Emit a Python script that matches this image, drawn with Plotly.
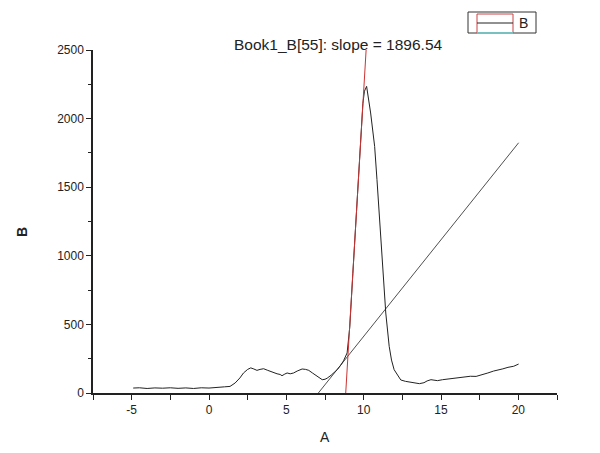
import plotly.graph_objects as go

# measured curve B vs A
a_vals = [-4.9, -4.5, -4.0, -3.5, -3.0, -2.5, -2.0, -1.5, -1.0, -0.5, 0.0, 0.3, 0.7, 1.0,
          1.36, 1.69, 2.0, 2.23, 2.5, 2.7, 2.9, 3.1, 3.3, 3.53, 3.8, 4.0, 4.18, 4.4, 4.6,
          4.72, 4.9, 5.05, 5.25, 5.47, 5.7, 6.02, 6.25, 6.45, 6.7, 6.99, 7.32, 7.5, 7.64,
          7.9, 8.1, 8.29, 8.5, 8.7, 8.93, 9.1, 9.3, 9.43, 9.65, 9.8, 9.95, 10.05, 10.19,
          10.45, 10.71, 10.86, 11.0, 11.12, 11.25, 11.43, 11.65, 11.8, 11.97, 12.2, 12.4,
          12.7, 13.05, 13.3, 13.6, 13.9, 14.1, 14.35, 14.6, 14.77, 15.1, 15.42, 15.8, 16.1,
          16.5, 16.9, 17.27, 17.6, 18.03, 18.4, 18.68, 19.0, 19.33, 19.7, 20.02]
b_vals = [36, 38, 33, 37, 35, 38, 34, 37, 33, 38, 36, 40, 42, 45,
          48, 73, 110, 146, 172, 183, 175, 165, 172, 177, 165, 155, 150, 140, 135,
          126, 138, 146, 140, 146, 160, 175, 172, 165, 145, 121, 97, 100, 108,
          130, 150, 170, 200, 235, 292, 480, 870, 1117, 1536, 1820, 2110, 2200, 2235,
          2041, 1797, 1555, 1312, 1069, 826, 583, 340, 240, 170, 125, 95,
          85, 80, 75, 68, 75, 88, 97, 92, 90, 97, 102, 108, 112,
          117, 122, 121, 130, 146, 160, 170, 176, 187, 195, 211]

x_ticks = [-5, 0, 5, 10, 15, 20]
x_tick_text = ["-5", "0", "5", "10", "15", "20"]

# tangent at Book1_B[55]
slope = 1896.54
tan_x = [8.84, 8.84 + 2500 / slope]
tan_y = [0, 2500]

# second straight line
line_x = [7.07, 20.02]
line_y = [0, 1824]

# page has an 8px body margin, so the figure is drawn 8px smaller
OFF = 8
W, H = 600 - OFF, 453 - OFF
L, R, T, B = 93 - OFF, 43, 50 - OFF, 60


def px(x):
    x -= OFF
    return (x - L) / (W - L - R)


def py(y):
    y -= OFF
    return (H - B - y) / (H - T - B)


fig = go.Figure()
fig.add_trace(go.Scatter(x=a_vals, y=b_vals, mode="lines",
                         line=dict(color="#222222", width=1), name="B"))
fig.add_trace(go.Scatter(x=line_x, y=line_y, mode="lines",
                         line=dict(color="#222222", width=0.8), showlegend=False))
fig.add_trace(go.Scatter(x=tan_x, y=tan_y, mode="lines",
                         line=dict(color="#cc3333", width=1), showlegend=False))

font = dict(family="Liberation Sans, Arial, sans-serif", color="#222222")

fig.update_layout(
    width=W, height=H,
    margin=dict(l=L, r=R, t=T, b=B),
    paper_bgcolor="white", plot_bgcolor="white",
    showlegend=False,
    font=dict(size=12, **font),
    xaxis=dict(range=[-7.5, 22.5], tickvals=x_ticks, ticktext=x_tick_text,
               ticks="outside", ticklen=5, tickwidth=1, tickcolor="#222",
               minor=dict(dtick=2.5, tick0=-7.5, ticks="outside", ticklen=5,
                          tickwidth=1, tickcolor="#222"),
               showline=True, linewidth=1.5, linecolor="#222",
               showgrid=False, zeroline=False),
    yaxis=dict(range=[0, 2500], dtick=500,
               ticks="outside", ticklen=5, tickwidth=1, tickcolor="#222",
               minor=dict(dtick=250, ticks="outside", ticklen=3,
                          tickwidth=1, tickcolor="#222"),
               showline=True, linewidth=1.5, linecolor="#222",
               showgrid=False, zeroline=False),
)

annotations = [
    dict(text="Book1_B[55]: slope = 1896.54", x=px(338), y=py(44),
         font=dict(size=15.5, **font)),
    dict(text="A", x=px(325), y=py(437), font=dict(size=14, **font)),
    dict(text="<b>B</b>", x=px(22), y=py(232), textangle=-90,
         font=dict(size=14, **font)),
    dict(text="B", x=px(523), y=py(23), font=dict(size=14, **font)),
]
for an in annotations:
    an.update(xref="paper", yref="paper", showarrow=False,
              xanchor="center", yanchor="middle")
fig.update_layout(annotations=annotations)

# legend box drawn in the Origin style
shapes = [
    dict(type="rect", x0=px(468), x1=px(536), y0=py(33), y1=py(12),
         line=dict(color="#333", width=1)),
    dict(type="rect", x0=px(477), x1=px(513), y0=py(33), y1=py(14),
         line=dict(color="#cc4444", width=1)),
    dict(type="line", x0=px(477), x1=px(513), y0=py(23), y1=py(23),
         line=dict(color="#222", width=1)),
    dict(type="line", x0=px(477), x1=px(513), y0=py(33), y1=py(33),
         line=dict(color="#66dddd", width=1.5)),
]
for s in shapes:
    s.update(xref="paper", yref="paper")
fig.update_layout(shapes=shapes)

fig.write_html("out.html")
